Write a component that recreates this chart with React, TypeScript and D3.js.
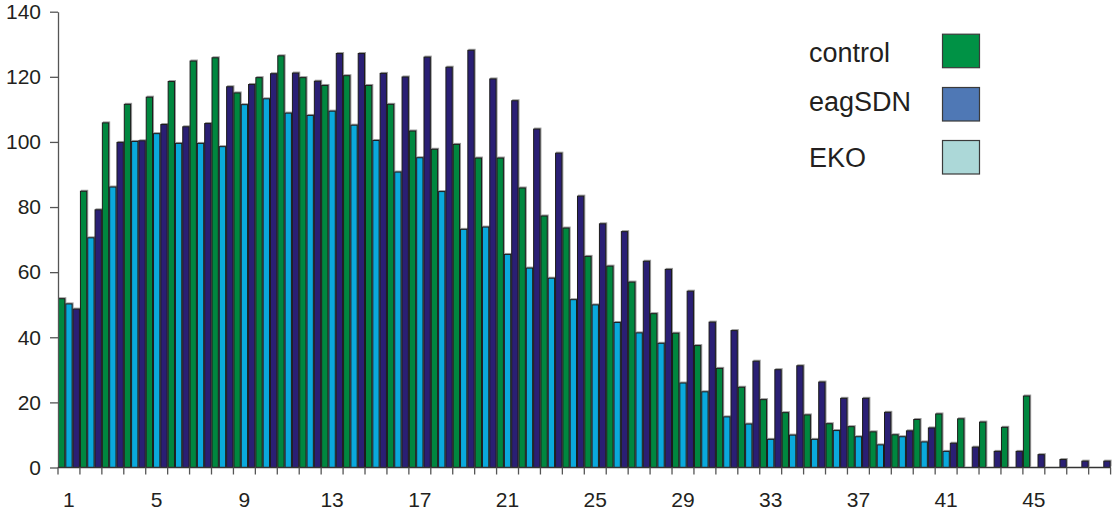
import * as d3 from "d3";
import { useEffect, useRef } from "react";

const categories = d3.range(1, 49).map(String);
const tickLabels = ["1", "5", "9", "13", "17", "21", "25", "29", "33", "37", "41", "45"];
const yTicks = [0, 20, 40, 60, 80, 100, 120, 140];

const seriesNames = ["control", "eagSDN", "EKO"];

// green bars
const control = [
    52.0, 85.0, 106.0, 111.7, 113.9, 118.7, 125.0, 126.0, 115.2, 119.9, 126.6, 119.9,
    117.5, 120.5, 117.5, 111.7, 103.5, 97.9, 99.4, 95.2, 95.2, 86.0, 77.4, 73.7,
    65.0, 62.0, 57.1, 47.4, 41.4, 37.6, 30.6, 24.8, 21.0, 17.0, 16.3, 13.6,
    12.7, 11.1, 10.2, 14.9, 16.6, 15.1, 14.1, 12.5, 22.1, 0, 0, 0,
];
// cyan bars
const eagSDN = [
    50.4, 70.7, 86.3, 100.3, 102.7, 99.7, 99.7, 98.7, 111.6, 113.4, 109.0, 108.3,
    109.6, 105.3, 100.6, 90.9, 95.3, 84.9, 73.3, 74.0, 65.6, 61.4, 58.3, 51.7,
    50.1, 44.7, 41.5, 38.3, 26.1, 23.4, 15.7, 13.5, 8.8, 10.1, 8.8, 11.5,
    9.6, 7.1, 9.6, 8.0, 5.1, 0, 0, 0, 0, 0, 0, 0,
];
// navy bars
const EKO = [
    48.8, 79.3, 100.0, 100.5, 105.5, 104.8, 105.8, 117.1, 117.8, 121.1, 121.3, 118.8,
    127.3, 127.3, 121.2, 120.1, 126.2, 123.1, 128.3, 119.5, 112.8, 104.1, 96.7, 83.5,
    75.0, 72.6, 63.5, 61.0, 54.3, 44.8, 42.2, 32.8, 30.2, 31.4, 26.4, 21.4,
    21.4, 17.1, 11.4, 12.3, 7.6, 6.4, 5.1, 5.1, 4.1, 2.6, 2.1, 2.1,
];

const barColors = ["#00873f", "#0aa9dc", "#2a1f74"];
const legendColors = ["#009245", "#4f78b5", "#acd8d8"];

export default function App() {
    const ref = useRef<SVGSVGElement | null>(null);

    useEffect(() => {
        if (!ref.current) return;
        const svg = d3.select(ref.current);
        svg.selectAll("*").remove();

        const width = 1112;
        const height = 518;
        const left = 58;
        const right = 1110.6;
        const top = 11.7;
        const bottom = 467.5;
        const font = "'Liberation Sans', Arial, sans-serif";
        const textColor = "#231f20";

        const x = d3.scaleBand().domain(categories).range([left, right]).padding(0);
        const xs = d3.scaleBand().domain(seriesNames).range([0, x.bandwidth()]).padding(0);
        const y = d3.scaleLinear().domain([0, 140]).range([bottom, top]);

        svg.attr("width", width).attr("height", height);

        const all = [control, eagSDN, EKO];
        const rows = categories.flatMap((c, i) =>
            seriesNames.map((s, j) => ({ c, s, j, v: all[j][i] })),
        ).filter((d) => d.v > 0);

        // faint offset shadow behind bars
        svg.append("g")
            .selectAll("rect")
            .data(rows)
            .join("rect")
            .attr("x", (d) => x(d.c)! + xs(d.s)! + 1)
            .attr("y", (d) => y(d.v) - 1)
            .attr("width", xs.bandwidth())
            .attr("height", (d) => bottom - y(d.v))
            .attr("fill", "#9a9a9a");

        svg.append("g")
            .selectAll("rect")
            .data(rows)
            .join("rect")
            .attr("x", (d) => x(d.c)! + xs(d.s)! + 0.5)
            .attr("y", (d) => y(d.v) + 0.5)
            .attr("width", xs.bandwidth() - 1)
            .attr("height", (d) => Math.max(0, bottom - y(d.v) - 0.5))
            .attr("fill", (d) => barColors[d.j])
            .attr("stroke", "#1c1c1c")
            .attr("stroke-width", 1);

        // y axis
        const yAxis = svg.append("g").attr("transform", `translate(${left},0)`)
            .call(d3.axisLeft(y).tickValues(yTicks).tickSize(8).tickPadding(9).tickSizeOuter(0));
        yAxis.select(".domain").attr("stroke", "#555").attr("stroke-width", 1.3);
        yAxis.selectAll(".tick line").attr("stroke", "#555").attr("stroke-width", 1.3);
        yAxis.selectAll("text")
            .attr("font-family", font)
            .attr("font-size", 21)
            .attr("fill", textColor);

        // x axis: ticks on category boundaries
        const xg = svg.append("g");
        xg.append("line")
            .attr("x1", left).attr("x2", right)
            .attr("y1", bottom).attr("y2", bottom)
            .attr("stroke", "#333").attr("stroke-width", 1.3);
        xg.selectAll("line.tk")
            .data(categories)
            .join("line")
            .attr("class", "tk")
            .attr("x1", (d) => x(d)! + x.bandwidth())
            .attr("x2", (d) => x(d)! + x.bandwidth())
            .attr("y1", bottom)
            .attr("y2", bottom + 7)
            .attr("stroke", "#555")
            .attr("stroke-width", 1.3);
        xg.append("line")
            .attr("x1", left).attr("x2", left)
            .attr("y1", bottom).attr("y2", bottom + 7)
            .attr("stroke", "#555").attr("stroke-width", 1.3);
        xg.selectAll("text")
            .data(tickLabels)
            .join("text")
            .attr("x", (d) => x(d)! + x.bandwidth() / 2)
            .attr("y", 507)
            .attr("text-anchor", "middle")
            .attr("font-family", font)
            .attr("font-size", 21)
            .attr("fill", textColor)
            .text((d) => d);

        // legend
        const lg = svg.append("g");
        const rowsY = [33.7, 87, 140];
        const baselines = [61.5, 111, 166.5];
        seriesNames.forEach((name, i) => {
            lg.append("rect")
                .attr("x", 942.5).attr("y", rowsY[i] + 0.5)
                .attr("width", 37).attr("height", 33.5)
                .attr("fill", legendColors[i])
                .attr("stroke", "#3a3a3a")
                .attr("stroke-width", 1.2);
            lg.append("text")
                .attr("x", 809)
                .attr("y", baselines[i])
                .attr("font-family", font)
                .attr("font-size", 27)
                .attr("fill", textColor)
                .text(name);
        });
    }, []);

    return (
        <svg
            ref={ref}
            style={{ position: "absolute", left: 0, top: 0, display: "block", background: "#fff" }}
        ></svg>
    );
}
